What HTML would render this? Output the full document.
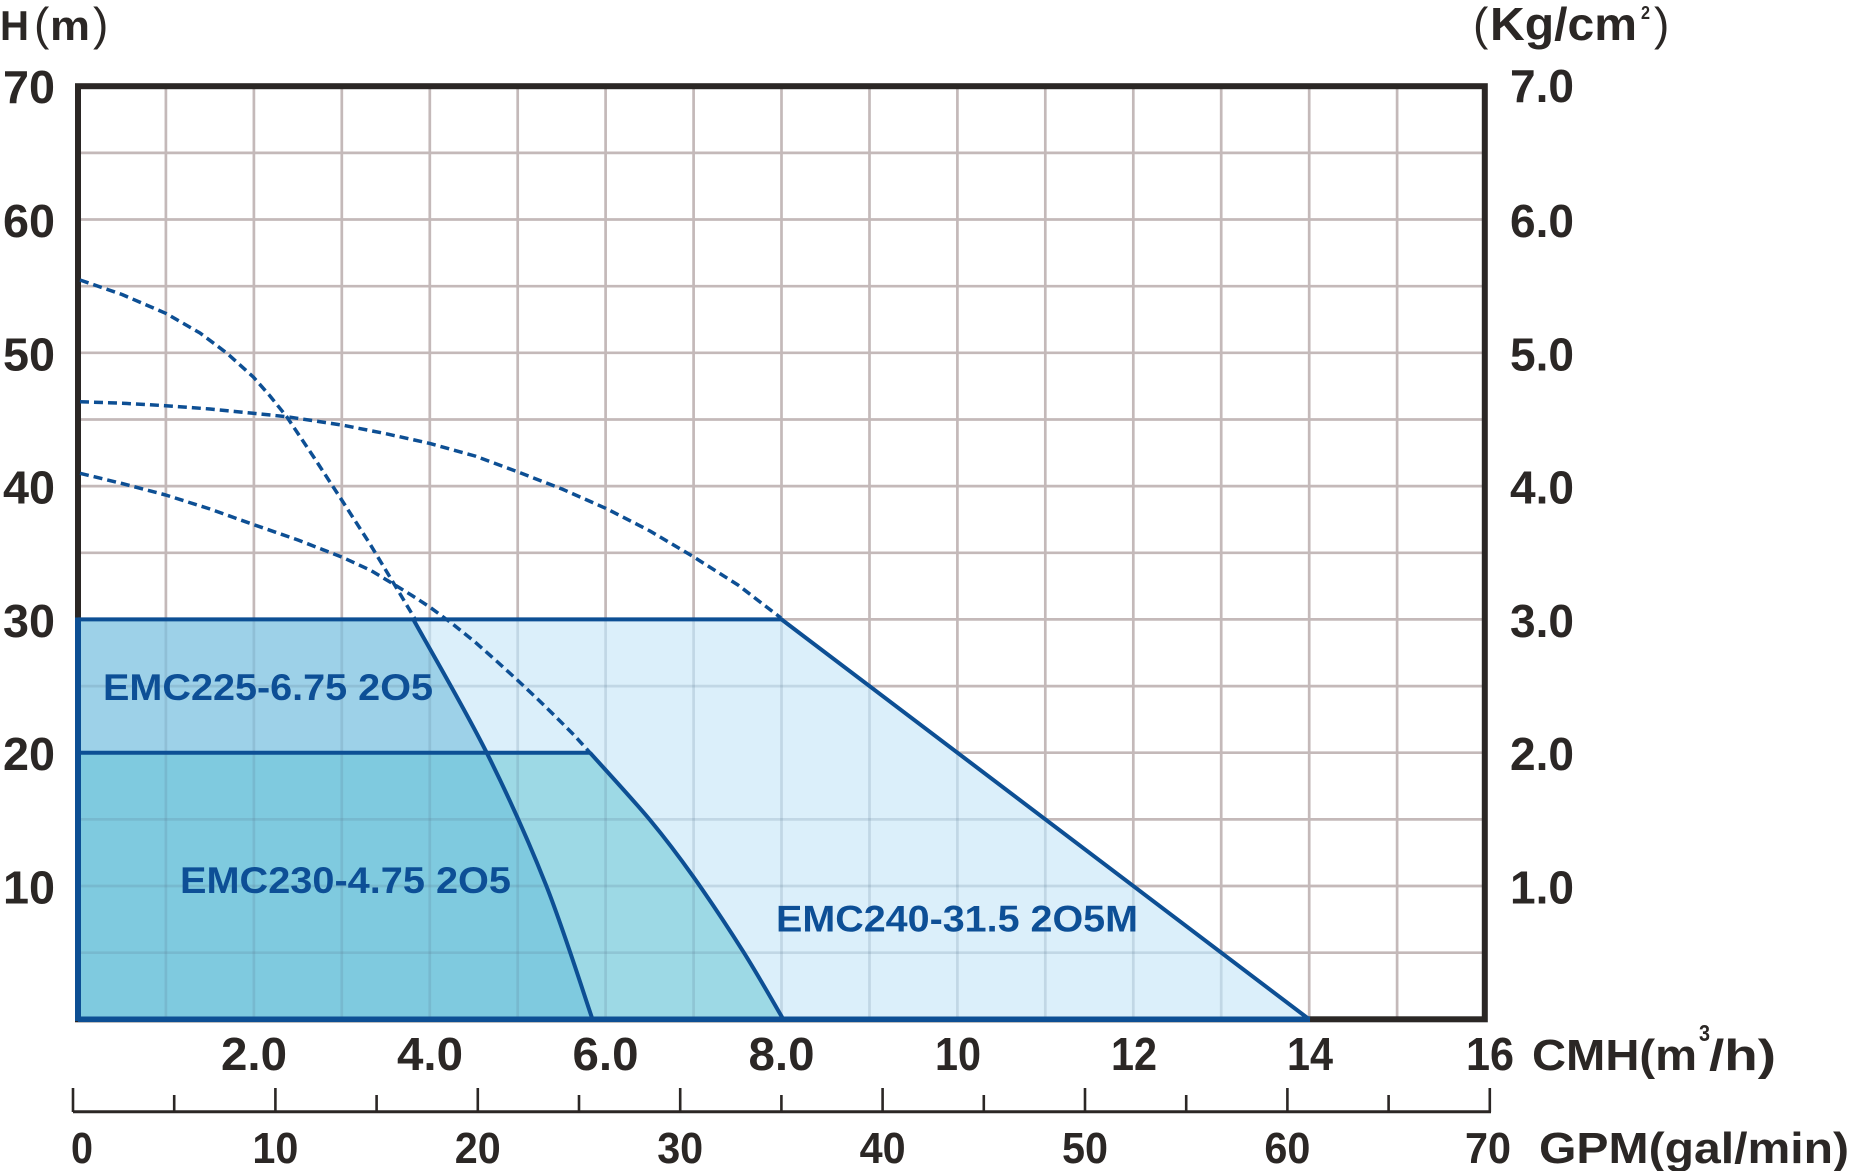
<!DOCTYPE html>
<html>
<head>
<meta charset="utf-8">
<style>
html,body{margin:0;padding:0;background:#fff;}
svg{display:block;}
text{font-family:"Liberation Sans",Arial,sans-serif;}
.k{fill:#2b2725;font-weight:bold;}
.kn{fill:#2b2725;font-weight:normal;}
.b{fill:#0d4f96;font-weight:bold;}
</style>
</head>
<body>
<svg width="1852" height="1171" viewBox="0 0 1852 1171" xmlns="http://www.w3.org/2000/svg">
<defs>
<clipPath id="fillclip"><path d="M78,619.4 L781.5,619.4 L1309.2,1019.3 L78,1019.3 Z"/></clipPath>
</defs>
<rect width="1852" height="1171" fill="#fff"/>

<!-- grid -->
<g stroke="#c4b9b9" stroke-width="2.7" fill="none">
<path d="M165.9,86V1019 M253.9,86V1019 M341.8,86V1019 M429.8,86V1019 M517.7,86V1019 M605.6,86V1019 M693.6,86V1019 M781.5,86V1019 M869.5,86V1019 M957.4,86V1019 M1045.3,86V1019 M1133.3,86V1019 M1221.2,86V1019 M1309.2,86V1019 M1397.1,86V1019"/>
<path d="M78,952.7H1485 M78,886H1485 M78,819.4H1485 M78,752.7H1485 M78,686.1H1485 M78,619.4H1485 M78,552.8H1485 M78,486.1H1485 M78,419.5H1485 M78,352.8H1485 M78,286.2H1485 M78,219.5H1485 M78,152.9H1485"/>
</g>

<!-- frame -->
<rect x="78" y="86.2" width="1406.8" height="933.1" fill="none" stroke="#2b2725" stroke-width="6"/>

<!-- fills -->
<path d="M78,619.4 L781.5,619.4 L1309.2,1019.3 L78,1019.3 Z" fill="#dbeffa"/>
<path d="M78,619.4 L413.3,619.4 C425.5,641.6 464.6,708.4 486.7,752.7 C508.8,797 528.4,840.6 546,885 C563.6,929.4 584.75,996.9 592.5,1019.3 L78,1019.3 Z" fill="#9dd1e8"/>
<path d="M78,752.7 L590,752.7 C600,763.9 632.8,799.3 650,820 C667.2,840.7 677.75,854.75 693.3,876.7 C708.85,898.65 728.3,927.9 743.3,951.7 C758.3,975.5 776.6,1008 783.3,1019.3 L78,1019.3 Z" fill="#9dd9e5"/>
<path d="M78,752.7 L486.7,752.7 C508.8,797 528.4,840.6 546,885 C563.6,929.4 584.75,996.9 592.5,1019.3 L78,1019.3 Z" fill="#7fcadf"/>

<!-- grid overlay inside fills -->
<g clip-path="url(#fillclip)" stroke="#5a7a90" stroke-opacity="0.2" stroke-width="2.7" fill="none">
<path d="M165.9,86V1019 M253.9,86V1019 M341.8,86V1019 M429.8,86V1019 M517.7,86V1019 M605.6,86V1019 M693.6,86V1019 M781.5,86V1019 M869.5,86V1019 M957.4,86V1019 M1045.3,86V1019 M1133.3,86V1019 M1221.2,86V1019"/>
<path d="M78,952.7H1485 M78,886H1485 M78,819.4H1485 M78,686.1H1485"/>
</g>

<!-- blue outlines -->
<g stroke="#0d4f94" fill="none" stroke-linejoin="round">
<path d="M78,619.4 H781.5 L1309.2,1019.3" stroke-width="4"/>
<path d="M78,752.7 H590" stroke-width="4"/>
<path d="M413.3,619.4 C425.5,641.6 464.6,708.4 486.7,752.7 C508.8,797 528.4,840.6 546,885 C563.6,929.4 584.75,996.9 592.5,1019.3" stroke-width="4"/>
<path d="M590,752.7 C600,763.9 632.8,799.3 650,820 C667.2,840.7 677.75,854.75 693.3,876.7 C708.85,898.65 728.3,927.9 743.3,951.7 C758.3,975.5 776.6,1008 783.3,1019.3" stroke-width="4"/>
<path d="M78,1019.3 H1310" stroke-width="5.5"/>
<path d="M78,617.5 V1021" stroke-width="6"/>
</g>

<!-- dashed curves -->
<g stroke="#0d4f94" fill="none" stroke-width="3.5" stroke-dasharray="9 5" stroke-linejoin="round">
<path d="M80,280 L122,294.5 L165.7,313.3 L200,333 L226.7,353 L253.3,377 L270,396 L286.7,416.7 L314,457.5 L341.7,500 L370,544 L396.7,588.3 L415,619"/>
<path d="M80,401.7 L122,403.2 L165.7,405.7 L210,409 L253.3,413.3 L286.7,416.7 L341.7,425 L385,433.5 L429.3,443.3 L475,456 L517.3,471.7 L562,489 L605.7,508.3 L650,531 L693.3,556.7 L738,585 L781,618"/>
<path d="M80,473.3 L122,483.5 L165.7,495 L210,509 L253.3,524.5 L298,540 L341.7,557 L370,570 L395,585 L412,595.5 L429.3,606.7 L452,623.5 L475,642 L497,661.5 L517.3,680 L537,698.5 L555,716 L574,735 L590,752.7"/>
</g>

<!-- series labels -->
<text class="b" x="103" y="700" font-size="37" textLength="330" lengthAdjust="spacingAndGlyphs">EMC225-6.75 2O5</text>
<text class="b" x="180" y="893" font-size="37" textLength="331" lengthAdjust="spacingAndGlyphs">EMC230-4.75 2O5</text>
<text class="b" x="776" y="931.5" font-size="37" textLength="362" lengthAdjust="spacingAndGlyphs">EMC240-31.5 2O5M</text>

<!-- axis titles -->
<text class="k" x="0" y="40" font-size="42" textLength="29" lengthAdjust="spacingAndGlyphs">H</text>
<text class="kn" x="34" y="40" font-size="46">(</text>
<text class="k" x="50" y="40" font-size="42" textLength="40" lengthAdjust="spacingAndGlyphs">m</text>
<text class="kn" x="93" y="40" font-size="46">)</text>

<text class="kn" x="1473" y="40" font-size="46">(</text>
<text class="k" x="1490" y="40" font-size="46" textLength="147" lengthAdjust="spacingAndGlyphs">Kg/cm</text>
<text class="k" x="1641" y="19" font-size="18" textLength="9" lengthAdjust="spacingAndGlyphs">2</text>
<text class="kn" x="1654" y="40" font-size="46">)</text>

<!-- left labels -->
<g class="k" font-size="46" text-anchor="end">
<text x="55" y="103" textLength="52" lengthAdjust="spacingAndGlyphs">70</text>
<text x="55" y="237" textLength="52" lengthAdjust="spacingAndGlyphs">60</text>
<text x="55" y="370.3" textLength="52" lengthAdjust="spacingAndGlyphs">50</text>
<text x="55" y="503.6" textLength="52" lengthAdjust="spacingAndGlyphs">40</text>
<text x="55" y="636.9" textLength="52" lengthAdjust="spacingAndGlyphs">30</text>
<text x="55" y="770.2" textLength="52" lengthAdjust="spacingAndGlyphs">20</text>
<text x="55" y="903.5" textLength="52" lengthAdjust="spacingAndGlyphs">10</text>
</g>

<!-- right labels -->
<g class="k" font-size="46">
<text x="1510" y="102" textLength="64" lengthAdjust="spacingAndGlyphs">7.0</text>
<text x="1510" y="237" textLength="64" lengthAdjust="spacingAndGlyphs">6.0</text>
<text x="1510" y="370.3" textLength="64" lengthAdjust="spacingAndGlyphs">5.0</text>
<text x="1510" y="503.6" textLength="64" lengthAdjust="spacingAndGlyphs">4.0</text>
<text x="1510" y="636.9" textLength="64" lengthAdjust="spacingAndGlyphs">3.0</text>
<text x="1510" y="770.2" textLength="64" lengthAdjust="spacingAndGlyphs">2.0</text>
<text x="1510" y="903.5" textLength="64" lengthAdjust="spacingAndGlyphs">1.0</text>
</g>

<!-- CMH labels -->
<g class="k" font-size="46">
<text x="221" y="1070" textLength="66" lengthAdjust="spacingAndGlyphs">2.0</text>
<text x="397" y="1070" textLength="66" lengthAdjust="spacingAndGlyphs">4.0</text>
<text x="572.5" y="1070" textLength="66" lengthAdjust="spacingAndGlyphs">6.0</text>
<text x="748.5" y="1070" textLength="66" lengthAdjust="spacingAndGlyphs">8.0</text>
<text x="935" y="1070" textLength="46" lengthAdjust="spacingAndGlyphs">10</text>
<text x="1111" y="1070" textLength="46" lengthAdjust="spacingAndGlyphs">12</text>
<text x="1287" y="1070" textLength="46" lengthAdjust="spacingAndGlyphs">14</text>
<text x="1466" y="1070" textLength="48" lengthAdjust="spacingAndGlyphs">16</text>
</g>
<text class="k" x="1532" y="1070" font-size="44" textLength="165" lengthAdjust="spacingAndGlyphs">CMH(m</text>
<text class="k" x="1699" y="1041" font-size="23" textLength="11" lengthAdjust="spacingAndGlyphs">3</text>
<text class="k" x="1709" y="1070" font-size="44" textLength="67" lengthAdjust="spacingAndGlyphs">/h)</text>

<!-- GPM axis -->
<g stroke="#2b2725" fill="none">
<path d="M73,1111.7 H1491" stroke-width="3"/>
<path d="M73,1088 V1112 M275.4,1088 V1112 M477.8,1088 V1112 M680.2,1088 V1112 M882.6,1088 V1112 M1085,1088 V1112 M1287.4,1088 V1112 M1489.8,1088 V1112" stroke-width="2.6"/>
<path d="M174.2,1095 V1112 M376.6,1095 V1112 M579,1095 V1112 M781.4,1095 V1112 M983.8,1095 V1112 M1186.2,1095 V1112 M1388.6,1095 V1112" stroke-width="2.6"/>
</g>

<!-- GPM labels -->
<g class="k" font-size="44">
<text x="71" y="1163" textLength="22" lengthAdjust="spacingAndGlyphs">0</text>
<text x="252.4" y="1163" textLength="46" lengthAdjust="spacingAndGlyphs">10</text>
<text x="454.8" y="1163" textLength="46" lengthAdjust="spacingAndGlyphs">20</text>
<text x="657.2" y="1163" textLength="46" lengthAdjust="spacingAndGlyphs">30</text>
<text x="859.6" y="1163" textLength="46" lengthAdjust="spacingAndGlyphs">40</text>
<text x="1062" y="1163" textLength="46" lengthAdjust="spacingAndGlyphs">50</text>
<text x="1264.4" y="1163" textLength="46" lengthAdjust="spacingAndGlyphs">60</text>
<text x="1465" y="1163" textLength="46" lengthAdjust="spacingAndGlyphs">70</text>
</g>
<text class="k" x="1539" y="1163" font-size="44" textLength="310" lengthAdjust="spacingAndGlyphs">GPM(gal/min)</text>
</svg>
</body>
</html>
